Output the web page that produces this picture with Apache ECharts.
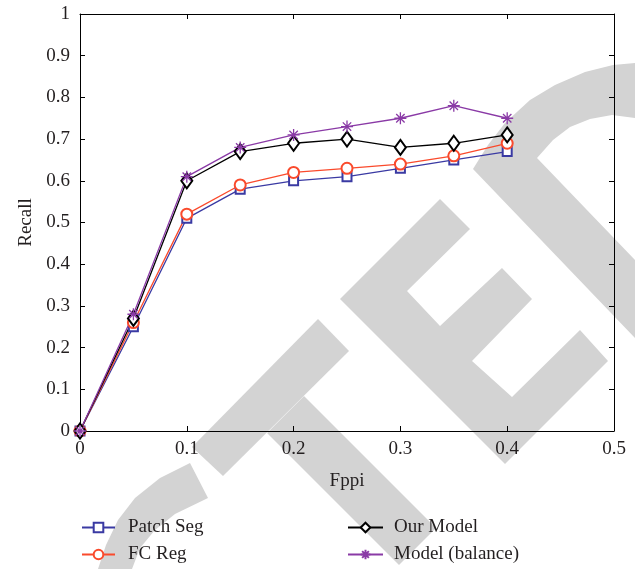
<!DOCTYPE html>
<html>
<head>
<meta charset="utf-8">
<title>Recall vs Fppi</title>
<script src="https://cdn.jsdelivr.net/npm/echarts@6/dist/echarts.min.js"></script>
<style>
  html, body { margin: 0; padding: 0; background: #fff; }
  #main { width: 635px; height: 569px; }
</style>
</head>
<body>
<div id="main"></div>
<script>
// data
var fppi = [0, 0.05, 0.1, 0.15, 0.2, 0.25, 0.3, 0.35, 0.4];
var patchSeg = [0, 0.25, 0.51, 0.58, 0.60, 0.61, 0.63, 0.65, 0.67];
var fcReg = [0, 0.26, 0.52, 0.59, 0.62, 0.63, 0.64, 0.66, 0.69];
var ourModel = [0, 0.27, 0.60, 0.67, 0.69, 0.70, 0.68, 0.69, 0.71];
var modelBalance = [0, 0.28, 0.61, 0.68, 0.71, 0.73, 0.75, 0.78, 0.75];
var seriesNames = ['Patch Seg', 'FC Reg', 'Our Model', 'Model (balance)'];

function pairs(ys) {
	return fppi.map(function (x, i) { return [x, ys[i]]; });
}

var FONT = '"Liberation Serif", "DejaVu Serif", serif';
var TXT = '#231f20';
var GRAY = '#d3d3d3';
var FS = 19;

// asterisk marker (+ and x together)
var STAR = 'path://M5 0L5 10M0 5L10 5M1.5 1.5L8.5 8.5M8.5 1.5L1.5 8.5';

// grey watermark shapes behind the plot
function wm(points) {
	return { type: 'polygon', z: -10, shape: { points: points }, style: { fill: GRAY } };
}

var myChart = echarts.init(document.getElementById('main'));

var axisCommon = {
	axisLine: { show: true, onZero: false, lineStyle: { color: '#000', width: 1 } },
	axisTick: { show: true, inside: true, length: 5, lineStyle: { color: '#000' } },
	splitLine: { show: false }
};

var option = {
	animation: false,
	backgroundColor: '#fff',
	textStyle: { fontFamily: FONT },
	grid: { left: 80, right: 21, top: 14, bottom: 138, containLabel: false },
	graphic: {
		elements: [
			// T
			wm([[318, 319], [349, 351], [223, 476], [192, 447]]),
			wm([[304, 396], [436, 528], [399, 565], [267, 433]]),
			// E
			wm([[340, 299], [440, 199], [470, 229], [407, 291], [440, 326], [502, 268], [532, 299],
				[472, 361], [512, 397], [580, 330], [608, 361], [505, 464]]),
			// arc top right
			wm([[473, 169], [488, 145], [505, 123], [530, 100], [555, 85], [585, 72], [613, 65], [635, 63],
				[635, 118], [612, 115], [590, 119], [570, 127], [553, 140], [537, 158],
				[635, 260], [635, 338]]),
			// arc bottom left
			wm([[190, 463], [160, 478], [135, 498], [118, 520], [106, 545], [98, 569],
				[132, 569], [140, 548], [155, 530], [175, 514], [208, 498]])
		]
	},
	legend: [
		{
			data: ['Patch Seg', 'FC Reg'],
			orient: 'vertical',
			left: 81, top: 517,
			itemWidth: 33, itemHeight: 12, itemGap: 6,
			padding: 0,
			textStyle: { fontFamily: FONT, fontSize: FS, color: TXT, lineHeight: 21, padding: [0, 0, 0, 8] }
		},
		{
			data: ['Our Model', 'Model (balance)'],
			orient: 'vertical',
			left: 347, top: 517,
			itemWidth: 35, itemHeight: 12, itemGap: 6,
			padding: 0,
			textStyle: { fontFamily: FONT, fontSize: FS, color: TXT, lineHeight: 21, padding: [0, 0, 0, 6] }
		}
	],
	xAxis: [
		Object.assign({}, axisCommon, {
			type: 'value', position: 'bottom',
			min: 0, max: 0.5, interval: 0.1,
			name: 'Fppi', nameLocation: 'middle', nameGap: 41,
			nameTextStyle: { fontFamily: FONT, fontSize: FS, color: TXT },
			axisLabel: { margin: 9, fontFamily: FONT, fontSize: FS, color: TXT }
		}),
		Object.assign({}, axisCommon, {
			type: 'value', position: 'top',
			min: 0, max: 0.5, interval: 0.1,
			axisLabel: { show: false }
		})
	],
	yAxis: [
		Object.assign({}, axisCommon, {
			type: 'value', position: 'left',
			min: 0, max: 1, interval: 0.1,
			name: 'Recall', nameLocation: 'middle', nameGap: 38, nameRotate: 90,
			nameTextStyle: { fontFamily: FONT, fontSize: FS, color: TXT },
			axisLabel: { margin: 10, fontFamily: FONT, fontSize: FS, color: TXT }
		}),
		Object.assign({}, axisCommon, {
			type: 'value', position: 'right',
			min: 0, max: 1, interval: 0.1,
			axisLabel: { show: false }
		})
	],
	series: [
		{
			name: seriesNames[0], type: 'line', data: pairs(patchSeg),
			symbol: 'emptyRect', symbolSize: 9,
			itemStyle: { color: '#3a3aa3', borderWidth: 1 },
			lineStyle: { color: '#3a3aa3', width: 1.3 }
		},
		{
			name: seriesNames[1], type: 'line', data: pairs(fcReg),
			symbol: 'emptyCircle', symbolSize: 11,
			itemStyle: { color: '#fa4a2c', borderWidth: 1 },
			lineStyle: { color: '#fa4a2c', width: 1.3 }
		},
		{
			name: seriesNames[2], type: 'line', data: pairs(ourModel),
			symbol: 'emptyDiamond', symbolSize: [11, 15],
			itemStyle: { color: '#000', borderWidth: 1.3 },
			lineStyle: { color: '#000', width: 1.3 }
		},
		{
			name: seriesNames[3], type: 'line', data: pairs(modelBalance),
			symbol: STAR, symbolSize: 12,
			itemStyle: { color: '#8a3aa6', borderColor: '#8a3aa6', borderWidth: 1.3 },
			lineStyle: { color: '#8a3aa6', width: 1.3 }
		}
	]
};

myChart.setOption(option);
</script>
</body>
</html>
